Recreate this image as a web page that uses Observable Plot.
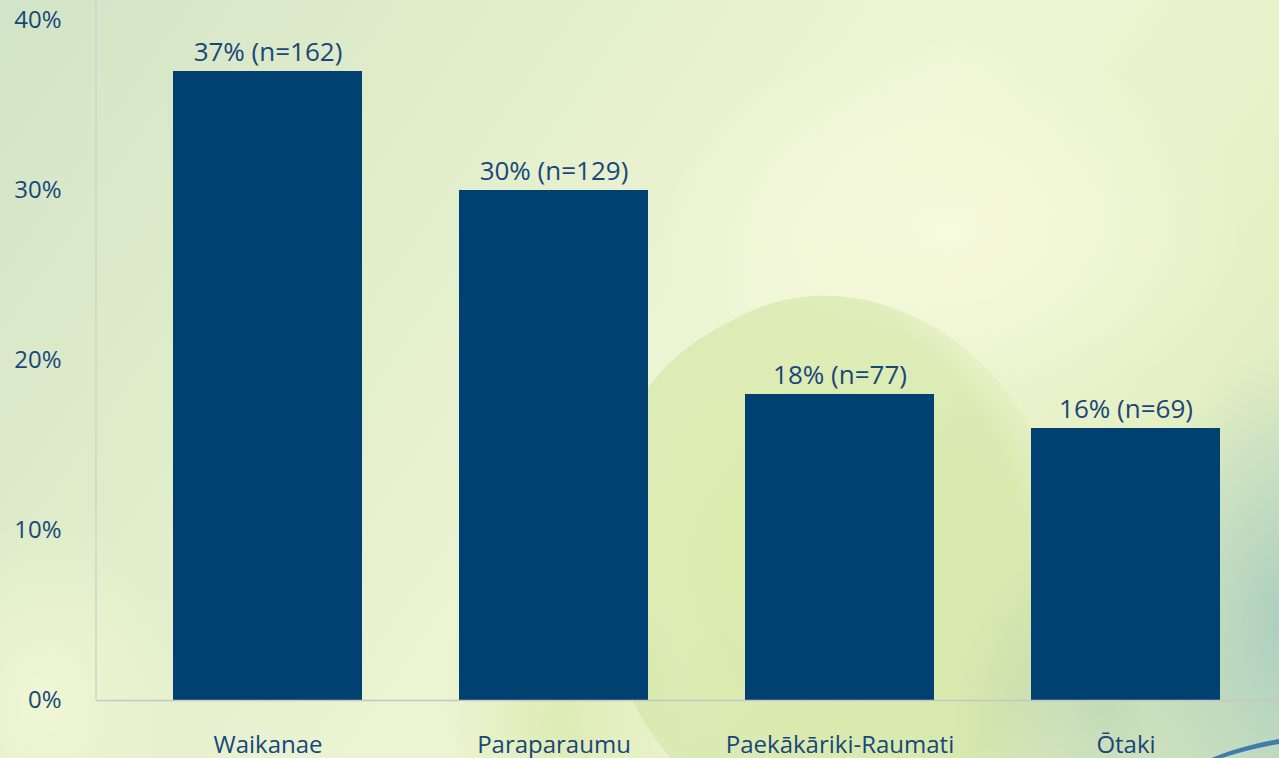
<!DOCTYPE html>
<html><head><meta charset="utf-8">
<script src="https://cdn.jsdelivr.net/npm/d3@7"></script>
<script src="https://cdn.jsdelivr.net/npm/@observablehq/plot@0.6"></script>
<style>
html,body{margin:0;padding:0;width:1279px;height:758px;overflow:hidden;}
body{
 position:relative;
 background:
  radial-gradient(ellipse 180px 260px at 560px 720px, rgba(210,230,160,0.6), rgba(210,230,160,0) 70%),
  radial-gradient(ellipse 420px 280px at 950px 230px, rgba(248,251,222,0.9), rgba(248,251,222,0) 70%),
  radial-gradient(ellipse 200px 380px at 1279px 620px, rgba(160,200,190,0.75), rgba(160,200,190,0) 70%),
  radial-gradient(ellipse 200px 260px at 40px 700px, rgba(245,250,215,0.7), rgba(245,250,215,0) 70%),
  linear-gradient(125deg, #d2e4c7 0%, #e2eecb 30%, #eef5d5 55%, #e6f0c4 80%, #cfe3bf 100%);
}
.leaf{position:absolute;left:600px;top:300px;width:480px;height:560px;border-radius:55% 45% 50% 50%;
 transform:rotate(-28deg);
 background:radial-gradient(ellipse at 45% 40%, rgba(214,234,160,0.75), rgba(200,225,150,0.45) 60%, rgba(200,225,150,0) 75%);}
.leaf2{position:absolute;left:950px;top:540px;width:300px;height:320px;border-radius:50%;
 background:radial-gradient(ellipse at 50% 50%, rgba(175,205,175,0.55), rgba(175,205,175,0) 70%);}
.swoosh{position:absolute;left:1180px;top:736px;width:240px;height:60px;border-top:5px solid #2a6ca8;border-radius:50% 0 0 0;transform:rotate(-8deg);opacity:0.85}
#chart{position:absolute;left:0;top:0;}
</style></head><body>
<div class="leaf"></div><div class="leaf2"></div><div class="swoosh"></div>
<div id="chart"></div>
<script>
const areas = ["Waikanae", "Paraparaumu", "Paekākāriki-Raumati", "Ōtaki"];
const shares = [0.37, 0.30, 0.18, 0.16];
const counts = [162, 129, 77, 69];
const yTicks = [0, 0.1, 0.2, 0.3, 0.4];

const data = areas.map((a, i) => ({area: a, share: shares[i], n: counts[i]}));
const textColor = "#19477a";
const barColor = "#004171";

const chart = Plot.plot({
  width: 1279,
  height: 758,
  marginTop: 20,
  marginBottom: 58,
  marginLeft: 96,
  marginRight: 0,
  style: {background: "transparent", fontFamily: "'Open Sans', sans-serif", overflow: "visible"},
  x: {domain: areas, range: [96, 1296], paddingInner: 0.34, paddingOuter: 0.265, label: null},
  y: {domain: [0, 0.4], label: null},
  marks: [
    Plot.axisY({ticks: yTicks, tickFormat: d => Math.round(d * 100) + "%", tickSize: 0, tickPadding: 35, fontSize: 24, color: textColor, label: null}),
    Plot.axisX({tickSize: 0, tickPadding: 35, fontSize: 24, color: textColor, label: null}),
    Plot.barY(data, {x: "area", y: "share", fill: barColor}),
    Plot.ruleY([0], {stroke: "#c4c8c4", strokeWidth: 1.5}),
    Plot.text(data, {x: "area", y: "share", text: d => `${Math.round(d.share * 100)}% (n=${d.n})`, dy: -19, fontSize: 26, fill: textColor})
  ]
});
document.getElementById("chart").appendChild(chart);

// left axis line derived from scales
const xs = chart.scale("x"), ys = chart.scale("y");
d3.select(chart).append("line")
  .attr("x1", xs.range[0]).attr("x2", xs.range[0])
  .attr("y1", 0).attr("y2", ys.apply(0))
  .attr("stroke", "#cfd3cf").attr("stroke-width", 1.5);
</script>
</body></html>
